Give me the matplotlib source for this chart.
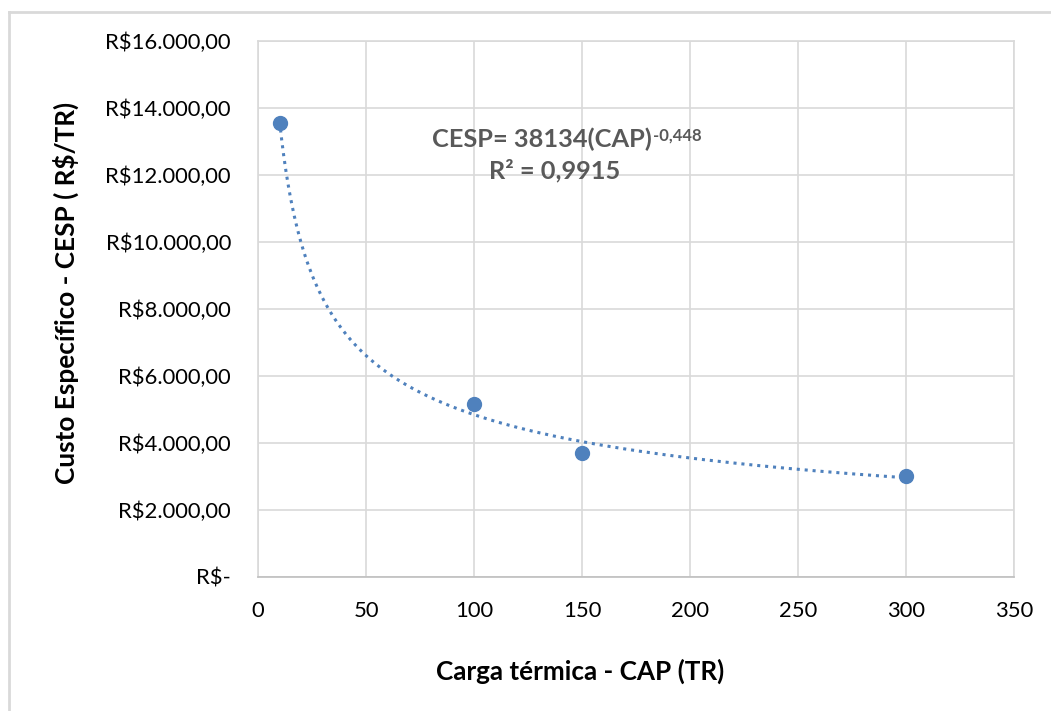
import numpy as np
import matplotlib.pyplot as plt
from matplotlib.ticker import FuncFormatter, MultipleLocator
from matplotlib.lines import Line2D

# Dados
carga = [10, 100, 150, 300]              # CAP (TR)
custo = [13550, 5160, 3700, 3010]        # CESP (R$/TR)

# Linha de tendência (potência) exibida no gráfico
coef_a = 38134
expoente = -0.448
r2_texto = '0,9915'

fonte = ['Lato', 'DejaVu Sans']
azul = '#4F81BD'
cinza_grade = '#D9D9D9'


def formato_real(v, pos):
    if v == 0:
        return 'R$-'
    s = f'{v:,.2f}'.replace(',', 'X').replace('.', ',').replace('X', '.')
    return 'R$' + s


fig = plt.figure(figsize=(10.51, 7.11), dpi=100)
ax = fig.add_axes([0.2455, 0.1885, 0.7193, 0.7539])

# linha de tendência
xs = np.linspace(min(carga), max(carga), 300)
ax.plot(xs, coef_a * xs ** expoente, linestyle=(0, (1, 1.6)), color=azul,
        linewidth=2.2, zorder=2)
ax.plot(carga, custo, 'o', color=azul, markersize=10, zorder=3)

ax.set_xlim(0, 350)
ax.set_ylim(0, 16000)
ax.xaxis.set_major_locator(MultipleLocator(50))
ax.yaxis.set_major_locator(MultipleLocator(2000))
ax.yaxis.set_major_formatter(FuncFormatter(formato_real))
ax.grid(True, color=cinza_grade, linewidth=1.2)
ax.set_axisbelow(True)
for sp in ax.spines.values():
    sp.set_color(cinza_grade)
    sp.set_linewidth(1.2)
ax.spines['bottom'].set_color('#BFBFBF')
ax.tick_params(length=0, labelsize=15.8)
ax.tick_params(axis='y', pad=19.5)
ax.tick_params(axis='x', pad=17)
for lbl in ax.get_xticklabels() + ax.get_yticklabels():
    lbl.set_family(fonte)

ax.set_xlabel('Carga térmica - CAP (TR)', fontsize=18.8, fontweight='bold',
              family=fonte)
ax.xaxis.set_label_coords(0.426, -0.152)
ax.set_ylabel('Custo Específico - CESP ( R$/TR)', fontsize=18.8,
              fontweight='bold', family=fonte)
ax.yaxis.set_label_coords(-0.237, 0.53)

# equação
eq = ax.text(0.3757, 0.817, 'CESP= 38134(CAP)', transform=ax.transAxes,
             ha='center', va='center', fontsize=18.3, fontweight='bold',
             color='#595959', family=fonte)
ax.annotate('-0,448', xy=(1.0, 1.0), xycoords=eq, xytext=(1, 0),
            textcoords='offset points', ha='left', va='top', fontsize=12,
            fontweight='bold', color='#595959', family=fonte)
ax.text(0.393, 0.759, 'R² = ' + r2_texto, transform=ax.transAxes,
        ha='center', va='center', fontsize=18.3, fontweight='bold',
        color='#595959', family=fonte)

# borda externa (recortada)
fig.add_artist(Line2D([9 / 1051, 9 / 1051], [0, 1 - 12 / 711],
                      transform=fig.transFigure, color=cinza_grade, lw=2))
fig.add_artist(Line2D([9 / 1051, 1], [1 - 12 / 711, 1 - 12 / 711],
                      transform=fig.transFigure, color=cinza_grade, lw=2))

fig.savefig('out.png', dpi=100)
